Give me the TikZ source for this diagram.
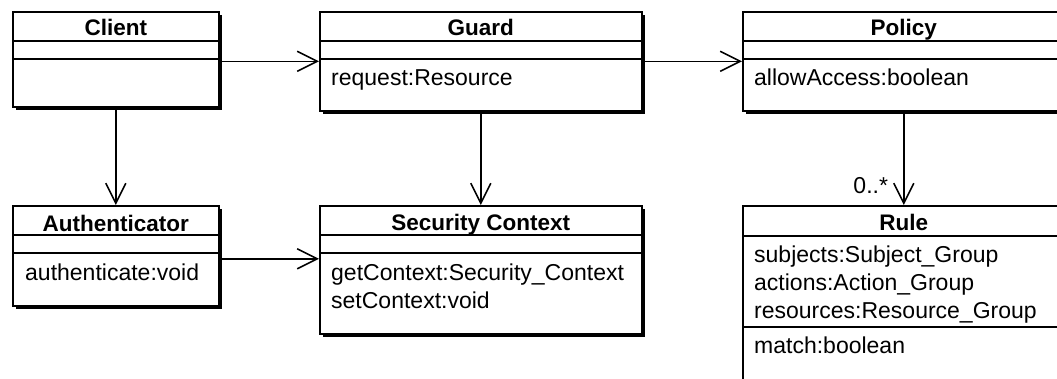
\documentclass[tikz,border=0pt]{standalone}
\usepackage{fontspec}
\setmainfont{Liberation Sans}
\usetikzlibrary{arrows.meta,positioning,calc,shadows}

\begin{document}
\begin{tikzpicture}[
    x=1pt, y=-1pt,
    font=\fontsize{23}{29}\selectfont,
    umlclass/.style={draw, line width=1.6pt, fill=white, anchor=north west, inner sep=0pt,
        drop shadow={shadow xshift=3.5pt, shadow yshift=-3.5pt, fill=black, opacity=1}},
    title/.style={font=\fontsize{22.5}{29}\selectfont\bfseries, anchor=base, inner sep=0pt},
    member/.style={anchor=base west, inner sep=0pt},
    sep/.style={line width=1.6pt},
    arrow/.style={-{Straight Barb[length=20pt,width=20pt]}, line width=1.6pt}
]
    \useasboundingbox (0,0) rectangle (1057,378);
    \clip (0,0) rectangle (1057,378);

    % Classes
    \node[umlclass, minimum width=206pt, minimum height=95pt] (client) at (12,11) {};
    \node[umlclass, minimum width=322pt, minimum height=99pt] (guard) at (319,11) {};
    \node[umlclass, minimum width=322pt, minimum height=99pt] (policy) at (742,11) {};
    \node[umlclass, minimum width=206pt, minimum height=100pt] (auth) at (12,205) {};
    \node[umlclass, minimum width=322pt, minimum height=128pt] (secctx) at (319,205) {};
    \node[umlclass, minimum width=322pt, minimum height=200pt] (rule) at (742,205) {};

    % Titles
    \node[title] (clientT) at ([yshift=-24pt]client.north) {Client};
    \node[title] (guardT) at ([yshift=-24pt]guard.north) {Guard};
    \node[title] (policyT) at ([yshift=-24pt]policy.north) {Policy};
    \node[title] (authT) at ([yshift=-26pt]auth.north) {Authenticator};
    \node[title] (secctxT) at ([yshift=-25pt]secctx.north) {Security Context};
    \node[title] (ruleT) at ([yshift=-25pt]rule.north) {Rule};

    % Compartments
    \foreach \c in {client,guard,policy,auth,secctx} {
        \draw[sep] ([yshift=-30pt]\c.north west) -- ([yshift=-30pt]\c.north east);
        \draw[sep] ([yshift=-48pt]\c.north west) -- ([yshift=-48pt]\c.north east);
    }
    \draw[sep] ([yshift=-31pt]rule.north west) -- ([yshift=-31pt]rule.north east);
    \draw[sep] ([yshift=-122pt]rule.north west) -- ([yshift=-122pt]rule.north east);

    % Members
    \node[member] (guardA) at ([xshift=12pt, yshift=-74pt]guard.north west) {request:Resource};
    \node[member] (policyA) at ([xshift=12pt, yshift=-74pt]policy.north west) {allowAccess:boolean};
    \node[member] (authA) at ([xshift=13pt, yshift=-75pt]auth.north west) {authenticate:void};
    \node[member] (secctxA) at ([xshift=12pt, yshift=-75pt]secctx.north west) {getContext:Security\_Context};
    \node[member] (secctxB) at ([xshift=12pt, yshift=-103pt]secctx.north west) {setContext:void};
    \node[member] (ruleA) at ([xshift=12pt, yshift=-57pt]rule.north west) {subjects:Subject\_Group};
    \node[member] (ruleB) at ([xshift=12pt, yshift=-85pt]rule.north west) {actions:Action\_Group};
    \node[member] (ruleC) at ([xshift=12pt, yshift=-113pt]rule.north west) {resources:Resource\_Group};
    \node[member] (ruleD) at ([xshift=12pt, yshift=-148pt]rule.north west) {match:boolean};

    % Associations
    \draw[arrow] (client.east |- guard.west) -- (guard.west);
    \draw[arrow] (guard) -- (policy);
    \draw[arrow] (client) -- (auth);
    \draw[arrow] (guard) -- (secctx);
    \draw[arrow] ([yshift=-3pt]auth.east) -- ([yshift=-3pt]auth.east -| secctx.west);
    \draw[arrow] (policy) -- (rule)
        node[at end, anchor=base east, xshift=-15pt, yshift=12pt, inner sep=0pt] (mult) {0..*};
\end{tikzpicture}
\end{document}
